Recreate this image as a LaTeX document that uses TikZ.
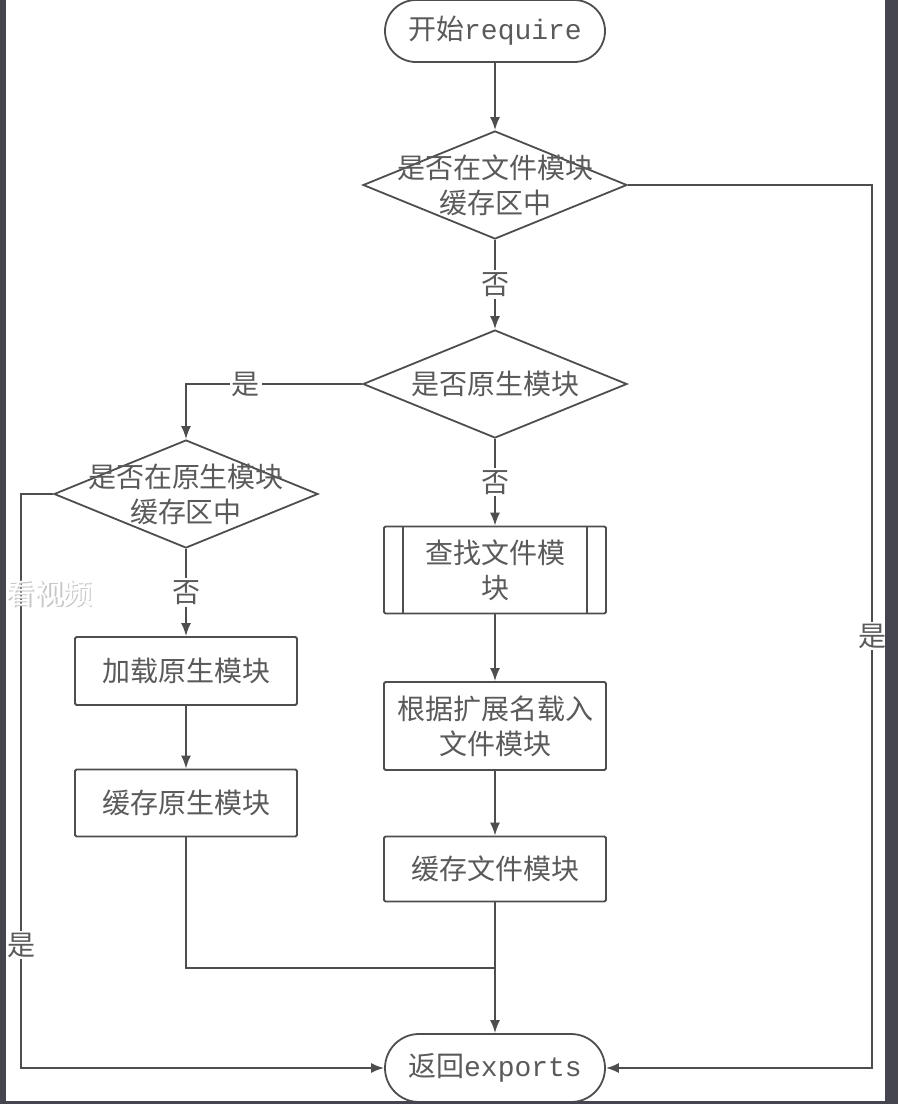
\documentclass[tikz,border=0pt]{standalone}
\usepackage{fontspec}
\newfontfamily\cjk{Noto Sans CJK SC}
\newfontfamily\lat{Liberation Mono}
\usetikzlibrary{shapes.geometric,arrows.meta,calc}
\definecolor{ln}{HTML}{4E4E4E}
\definecolor{tx}{HTML}{5A5A5A}
\definecolor{edge}{HTML}{45454F}
\begin{document}
\begin{tikzpicture}[x=1pt,y=-1pt,
 every node/.style={font=\cjk\fontsize{28}{35}\selectfont, text=tx},
 term/.style={draw=ln, line width=1.8pt, rounded corners=31pt, minimum width=220pt, minimum height=62pt, inner sep=0},
 dia/.style={draw=ln, line width=1.8pt, diamond, minimum width=264pt, minimum height=108pt, inner sep=0},
 box/.style={draw=ln, line width=1.8pt, rounded corners=1.5pt, minimum width=222pt, inner sep=0, align=center},
 conn/.style={draw=ln, line width=1.8pt},
 arr/.style={conn, -{Latex[length=13pt,width=10pt]}},
 lbl/.style={fill=white, inner sep=2pt},
]
\useasboundingbox (0,0) rectangle (898,1104);
\fill[white] (0,0) rectangle (898,1104);

% nodes
\node[term] (start) at (495,31) {开始{\lat require}};
\node[dia] (d1) at (495,185) {};
\node[align=center] (d1t) at (d1) {是否在文件模块\\缓存区中};
\node[dia] (d2) at (495,384) {};
\node (d2t) at (d2) {是否原生模块};
\node[dia] (d3) at (186,494) {};
\node[align=center] (d3t) at (d3) {是否在原生模块\\缓存区中};
\node[box, minimum height=68pt] (load) at (186,671) {加载原生模块};
\node[box, minimum height=67pt] (cacheN) at (186,803) {缓存原生模块};
\node[box, minimum height=87pt] (find) at (495,570) {查找文件模\\块};
\draw[conn] ($(find.north west)+(20,0)$) -- ($(find.south west)+(20,0)$);
\draw[conn] ($(find.north east)+(-20,0)$) -- ($(find.south east)+(-20,0)$);
\node[box, minimum height=88pt] (ext) at (495,726) {根据扩展名载入\\文件模块};
\node[box, minimum height=65pt] (cacheF) at (495,869) {缓存文件模块};
\node[term, minimum height=68pt, rounded corners=34pt] (ret) at (495,1068) {返回{\lat exports}};

% connectors
\draw[arr] (start.south) -- (d1.north);
\coordinate (rr) at (872,185);
\draw[arr] (d1.east) -- (rr) |- (ret.east);
\node[lbl] (l1) at (872,636) {是};
\draw[arr] (d1.south) -- node[lbl] (l2) {否} (d2.north);
\draw[arr] (d2.west) -| node[lbl, pos=0.33] (l3) {是} (d3.north);
\draw[arr] (d2.south) -- node[lbl] (l4) {否} (find.north);
\draw[arr] (d3.south) -- node[lbl] (l5) {否} (load.north);
\coordinate (ll) at (21,494);
\draw[arr] (d3.west) -- (ll) |- (ret.west);
\node[lbl] (l6) at (21,945) {是};
\draw[arr] (load.south) -- (cacheN.north);
\draw[arr] (find.south) -- (ext.north);
\draw[arr] (ext.south) -- (cacheF.north);
\draw[arr] (cacheF.south) -- (ret.north);
\coordinate (j) at (495,968);
\draw[conn] (cacheN.south) |- (j);

% screen frame
\fill[edge] (0,0) rectangle (6,1104);
\fill[edge] (885,0) rectangle (898,1104);
\fill[edge] (0,1101) rectangle (898,1104);

% video overlay text
\node[text=black!22, font=\cjk\fontsize{29}{29}\selectfont] (vs) at (50.5,594.5) {看视频};
\node[text=white, font=\cjk\fontsize{29}{29}\selectfont] (v) at (49,593) {看视频};
\end{tikzpicture}
\end{document}
